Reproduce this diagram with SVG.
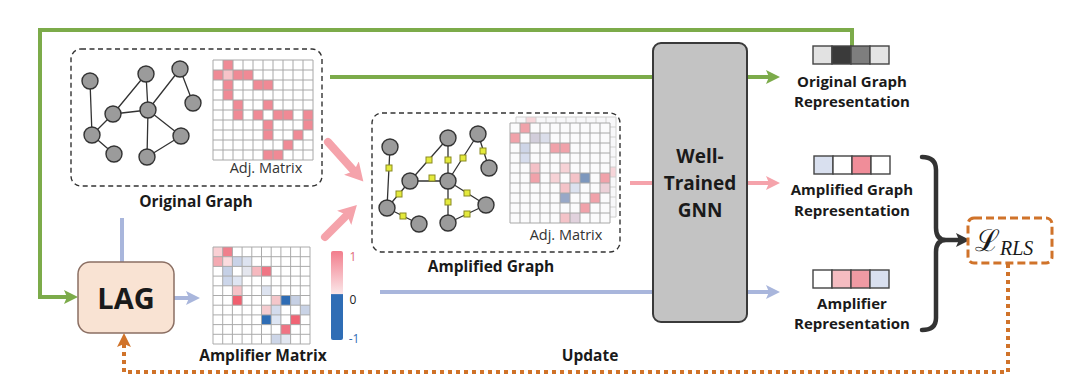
<svg xmlns="http://www.w3.org/2000/svg" xmlns:xlink="http://www.w3.org/1999/xlink" width="1080" height="384" viewBox="0 0 1080 384">
<style>
.lbl{font-family:"Open Sans","Liberation Sans",sans-serif;font-weight:bold;fill:#1a1a1a;text-anchor:middle}
.reg{font-family:"Open Sans","Liberation Sans",sans-serif;fill:#333;text-anchor:middle;font-size:14.5px}
.dash{fill:none;stroke:#333;stroke-width:1.4;stroke-dasharray:5 3.5}
.nd{fill:#9b9b9b;stroke:#333;stroke-width:1.4}
.ed{stroke:#333;stroke-width:1.3;fill:none}
.yq{fill:#e4ea3c;stroke:#8a8a22;stroke-width:1}
.rep{stroke:#444;stroke-width:1.4}
.grn{fill:none;stroke:#7cab4a;stroke-width:4}
.pnk{fill:none;stroke:#f5a3ab;stroke-width:4}
.blu{fill:none;stroke:#a9b6dc;stroke-width:4}
</style>
<defs>
<path id="grid" d="M0 0H100M0 10H100M0 20H100M0 30H100M0 40H100M0 50H100M0 60H100M0 70H100M0 80H100M0 90H100M0 100H100M0 0V100M10 0V100M20 0V100M30 0V100M40 0V100M50 0V100M60 0V100M70 0V100M80 0V100M90 0V100M100 0V100" fill="none" stroke="#a8a8a8" stroke-width="1"/>
<linearGradient id="cbar" x1="0" y1="0" x2="0" y2="1">
<stop offset="0" stop-color="#f27d8c"/>
<stop offset="0.48" stop-color="#fbe6e8"/>
<stop offset="0.49" stop-color="#2f6db5"/>
<stop offset="1" stop-color="#2f6db5"/>
</linearGradient>
<marker id="mg" markerUnits="userSpaceOnUse" markerWidth="14" markerHeight="14" viewBox="0 0 14 14" refX="3" refY="7" orient="auto"><path d="M0 0L14 7L0 14L3 7z" fill="#7cab4a"/></marker>
<marker id="mp" markerUnits="userSpaceOnUse" markerWidth="14" markerHeight="14" viewBox="0 0 14 14" refX="3" refY="7" orient="auto"><path d="M0 0L14 7L0 14L3 7z" fill="#f5a3ab"/></marker>
<marker id="mb" markerUnits="userSpaceOnUse" markerWidth="14" markerHeight="14" viewBox="0 0 14 14" refX="3" refY="7" orient="auto"><path d="M0 0L14 7L0 14L3 7z" fill="#a9b6dc"/></marker>
<marker id="mk" markerUnits="userSpaceOnUse" markerWidth="14" markerHeight="14" viewBox="0 0 14 14" refX="3" refY="7" orient="auto"><path d="M0 0L14 7L0 14L3 7z" fill="#333"/></marker>
<marker id="mo" markerUnits="userSpaceOnUse" markerWidth="14" markerHeight="14" viewBox="0 0 14 14" refX="3" refY="7" orient="auto"><path d="M0 0L14 7L0 14L3 7z" fill="#d0732a"/></marker>
<marker id="mpb" markerUnits="userSpaceOnUse" markerWidth="20" markerHeight="20" viewBox="0 0 20 20" refX="4" refY="10" orient="auto"><path d="M0 0L18 10L0 20L4 10z" fill="#f5a3ab"/></marker>
</defs>

<g id="connectors">
<path class="grn" d="M852 46V30H40V297H67" marker-end="url(#mg)"/>
<path class="grn" d="M330 77H769" marker-end="url(#mg)"/>
<path class="pnk" d="M630 183H769" marker-end="url(#mp)"/>
<path class="blu" d="M380 292H769" marker-end="url(#mb)"/>
<path class="blu" d="M122 218V262"/>
<path class="blu" d="M174 298H189" marker-end="url(#mb)"/>
<path d="M328 142L354 171" stroke="#f5a3ab" stroke-width="8" stroke-linecap="round" marker-end="url(#mpb)"/>
<path d="M325 237L347 215" stroke="#f5a3ab" stroke-width="8" stroke-linecap="round" marker-end="url(#mpb)"/>
<path d="M922 157Q936 157 936 170V228Q936 240 946 240Q936 240 936 252V318Q936 330 922 330" fill="none" stroke="#333" stroke-width="4.5" stroke-linecap="round"/>
<path d="M946 240H959" stroke="#333" stroke-width="4.5" marker-end="url(#mk)"/>
<path d="M1008 264V372H124V344" fill="none" stroke="#d0732a" stroke-width="4" stroke-dasharray="4 4" marker-end="url(#mo)"/>
</g>

<g id="original-graph">
<rect class="dash" x="71" y="49" width="251" height="137" rx="10"/>
<g class="ed">
<path d="M90 81L92 135M92 135L113 114M92 135L114 154M113 114L146 74M113 114L148 110M146 74L148 110M180 69L148 110M180 69L193 103M148 110L147 157M148 110L181 136M181 136L147 157"/>
</g>
<g class="nd">
<circle cx="90" cy="81" r="8"/><circle cx="146" cy="74" r="8"/><circle cx="180" cy="69" r="8"/><circle cx="193" cy="103" r="8"/><circle cx="113" cy="114" r="8"/><circle cx="148" cy="110" r="8"/><circle cx="92" cy="135" r="8"/><circle cx="114" cy="154" r="8"/><circle cx="147" cy="157" r="8"/><circle cx="181" cy="136" r="8"/>
</g>
<g transform="translate(213,60)" fill="#ef8a95">
<rect x="10" y="0" width="10" height="10"/>
<rect x="0" y="10" width="10" height="10"/><rect x="10" y="10" width="10" height="10" fill="#f7c4c9"/><rect x="20" y="10" width="10" height="10"/><rect x="30" y="10" width="10" height="10"/>
<rect x="10" y="20" width="10" height="10"/><rect x="40" y="20" width="10" height="10"/><rect x="50" y="20" width="10" height="10"/>
<rect x="10" y="30" width="10" height="10"/>
<rect x="20" y="40" width="10" height="10"/><rect x="50" y="40" width="10" height="10"/>
<rect x="20" y="50" width="10" height="10"/><rect x="40" y="50" width="10" height="10"/><rect x="60" y="50" width="10" height="10"/><rect x="70" y="50" width="10" height="10"/><rect x="90" y="50" width="10" height="10"/>
<rect x="50" y="60" width="10" height="10"/><rect x="90" y="60" width="10" height="10"/>
<rect x="50" y="70" width="10" height="10"/><rect x="80" y="70" width="10" height="10"/>
<rect x="70" y="80" width="10" height="10"/>
<rect x="50" y="90" width="10" height="10"/><rect x="60" y="90" width="10" height="10"/>
<use xlink:href="#grid" href="#grid"/>
</g>
<text class="reg" x="266" y="173">Adj. Matrix</text>
<text class="lbl" x="196" y="207" font-size="15.5">Original Graph</text>
</g>

<g id="amplified-graph">
<rect class="dash" x="372" y="113" width="248" height="139" rx="10"/>
<g class="ed">
<path d="M390 147L387 208M387 208L410 181M387 208L419 224M410 181L448 138M410 181L448 181M448 138L448 181M478 134L448 181M478 134L489 168M448 181L448 223M448 181L486 205M486 205L448 223"/>
</g>
<g class="nd">
<circle cx="390" cy="147" r="8"/><circle cx="448" cy="138" r="8"/><circle cx="478" cy="134" r="8"/><circle cx="489" cy="168" r="8"/><circle cx="410" cy="181" r="8"/><circle cx="448" cy="181" r="8"/><circle cx="387" cy="208" r="8"/><circle cx="419" cy="224" r="8"/><circle cx="448" cy="223" r="8"/><circle cx="486" cy="205" r="8"/>
</g>
<g class="yq">
<rect x="386" y="165" width="6" height="6"/><rect x="396" y="191" width="6" height="6"/><rect x="400" y="213" width="6" height="6"/><rect x="426" y="157" width="6" height="6"/><rect x="429" y="175" width="6" height="6"/><rect x="445" y="157" width="6" height="6"/><rect x="460" y="155" width="6" height="6"/><rect x="480" y="148" width="6" height="6"/><rect x="445" y="199" width="6" height="6"/><rect x="464" y="190" width="6" height="6"/><rect x="464" y="211" width="6" height="6"/>
</g>
<g transform="translate(516,117)" opacity="0.55">
<rect x="0" y="0" width="100" height="100" fill="#f4f4f6"/>
<g fill="#ef8a95" opacity="0.6">
<rect x="10" y="0" width="10" height="10"/><rect x="20" y="10" width="10" height="10"/><rect x="50" y="20" width="10" height="10"/><rect x="90" y="50" width="10" height="10"/><rect x="80" y="70" width="10" height="10"/>
</g>
<use xlink:href="#grid" href="#grid"/>
</g>
<g transform="translate(510,123)">
<rect x="0" y="0" width="100" height="100" fill="#fbfbfc"/>
<g fill="#ee8c96" opacity="0.8">
<rect x="10" y="0" width="10" height="10"/>
<rect x="0" y="10" width="10" height="10"/><rect x="20" y="10" width="10" height="10" fill="#c9c4d4"/><rect x="30" y="10" width="10" height="10" fill="#d4d8e6"/>
<rect x="10" y="20" width="10" height="10" fill="#c3cce2"/><rect x="40" y="20" width="10" height="10"/><rect x="50" y="20" width="10" height="10"/>
<rect x="10" y="30" width="10" height="10" fill="#cfd6ea"/>
<rect x="20" y="40" width="10" height="10" fill="#f3b3ba"/><rect x="50" y="40" width="10" height="10" fill="#f6c8cd"/>
<rect x="20" y="50" width="10" height="10"/><rect x="40" y="50" width="10" height="10" fill="#f6c8cd"/><rect x="60" y="50" width="10" height="10" fill="#f3b6bc"/><rect x="70" y="50" width="10" height="10" fill="#5e7fae"/><rect x="90" y="50" width="10" height="10"/>
<rect x="50" y="60" width="10" height="10" fill="#f3b6bc"/><rect x="60" y="60" width="10" height="10" fill="#d5dcec"/><rect x="90" y="60" width="10" height="10" fill="#e9c7d0"/>
<rect x="50" y="70" width="10" height="10" fill="#8094ba"/><rect x="80" y="70" width="10" height="10"/>
<rect x="70" y="80" width="10" height="10"/>
<rect x="50" y="90" width="10" height="10" fill="#f3b6bc"/><rect x="60" y="90" width="10" height="10" fill="#dbc9d6"/>
</g>
<use xlink:href="#grid" href="#grid"/>
</g>
<text class="reg" x="566" y="240">Adj. Matrix</text>
<text class="lbl" x="491" y="272" font-size="15.5">Amplified Graph</text>
</g>

<g id="lag">
<rect x="78" y="262" width="96" height="71" rx="12" fill="#f9e3d3" stroke="#8b6f63" stroke-width="1.5"/>
<text class="lbl" x="126" y="309" font-size="29">LAG</text>
</g>

<g id="amplifier-matrix">
<g transform="translate(213,247) scale(0.97)">
<rect x="0" y="0" width="10" height="10" fill="#f9d0d4"/><rect x="10" y="0" width="10" height="10" fill="#f07f8c"/>
<rect x="0" y="10" width="10" height="10" fill="#f4aab2"/><rect x="10" y="10" width="10" height="10" fill="#fbdcdf"/><rect x="20" y="10" width="10" height="10" fill="#c9d3e8"/><rect x="30" y="10" width="10" height="10" fill="#dde3f0"/>
<rect x="10" y="20" width="10" height="10" fill="#c5d0e6"/><rect x="30" y="20" width="10" height="10" fill="#e4e6ee"/><rect x="40" y="20" width="10" height="10" fill="#f6b9bf"/><rect x="50" y="20" width="10" height="10" fill="#f07584"/>
<rect x="10" y="30" width="10" height="10" fill="#ccd6ea"/><rect x="20" y="30" width="10" height="10" fill="#dfe5f2"/>
<rect x="20" y="40" width="10" height="10" fill="#f5c2c7"/><rect x="50" y="40" width="10" height="10" fill="#dde3f0"/>
<rect x="20" y="50" width="10" height="10" fill="#f0606f"/><rect x="60" y="50" width="10" height="10" fill="#f4c6ca"/><rect x="70" y="50" width="10" height="10" fill="#2f6db5"/><rect x="80" y="50" width="10" height="10" fill="#c6d0e4"/>
<rect x="50" y="60" width="10" height="10" fill="#f5ccd0"/><rect x="60" y="60" width="10" height="10" fill="#d3dbec"/><rect x="90" y="60" width="10" height="10" fill="#c9d3e6"/>
<rect x="50" y="70" width="10" height="10" fill="#2f6db5"/><rect x="60" y="70" width="10" height="10" fill="#dde5f3"/><rect x="80" y="70" width="10" height="10" fill="#f06474"/>
<rect x="70" y="80" width="10" height="10" fill="#f07484"/>
<rect x="60" y="90" width="10" height="10" fill="#cdd6e8"/><rect x="70" y="90" width="10" height="10" fill="#e2e7f1"/>
<use xlink:href="#grid" href="#grid"/>
</g>
<rect x="331" y="251" width="12" height="89" rx="2" fill="url(#cbar)"/>
<text x="353" y="261" font-family="Open Sans, Liberation Sans, sans-serif" font-size="12" fill="#e06a78" text-anchor="middle">1</text>
<text x="353" y="304" font-family="Open Sans, Liberation Sans, sans-serif" font-size="12" fill="#222" text-anchor="middle">0</text>
<text x="354" y="343" font-family="Open Sans, Liberation Sans, sans-serif" font-size="12" fill="#2f6db5" text-anchor="middle">-1</text>
<text class="lbl" x="263" y="361" font-size="15.5">Amplifier Matrix</text>
</g>

<g id="update-label">
<text class="lbl" x="590" y="361" font-size="15.5">Update</text>
</g>

<g id="gnn">
<rect x="653" y="43" width="94" height="279" rx="8" fill="#c3c3c3" stroke="#3a3a3a" stroke-width="2"/>
<text class="lbl" x="700" y="163" font-size="19">Well-</text>
<text class="lbl" x="700" y="190" font-size="19">Trained</text>
<text class="lbl" x="700" y="217" font-size="19">GNN</text>
</g>

<g id="original-representation">
<rect class="rep" x="813" y="46" width="19" height="18" fill="#e2e2e2"/>
<rect class="rep" x="832" y="46" width="19" height="18" fill="#3a3a3a"/>
<rect class="rep" x="851" y="46" width="19" height="18" fill="#7e7e7e"/>
<rect class="rep" x="870" y="46" width="19" height="18" fill="#e4e4e4"/>
<text class="lbl" x="852" y="87" font-size="15">Original Graph</text>
<text class="lbl" x="852" y="107" font-size="15">Representation</text>
</g>

<g id="amplified-representation">
<rect class="rep" x="814" y="156" width="19" height="18" fill="#d9e0ef"/>
<rect class="rep" x="833" y="156" width="19" height="18" fill="#ffffff"/>
<rect class="rep" x="852" y="156" width="19" height="18" fill="#f08d99"/>
<rect class="rep" x="871" y="156" width="19" height="18" fill="#ffffff"/>
<text class="lbl" x="852" y="195" font-size="15">Amplified Graph</text>
<text class="lbl" x="852" y="216" font-size="15">Representation</text>
</g>

<g id="amplifier-representation">
<rect class="rep" x="813" y="270" width="19" height="18" fill="#ffffff"/>
<rect class="rep" x="832" y="270" width="19" height="18" fill="#f5bcc1"/>
<rect class="rep" x="851" y="270" width="19" height="18" fill="#ef9aa3"/>
<rect class="rep" x="870" y="270" width="19" height="18" fill="#d9e0ef"/>
<text class="lbl" x="852" y="309" font-size="15">Amplifier</text>
<text class="lbl" x="852" y="329" font-size="15">Representation</text>
</g>

<g id="loss">
<rect x="968" y="218" width="84" height="45" rx="6" fill="#ffffff" stroke="#d0732a" stroke-width="3" stroke-dasharray="8 4"/>
<text x="975" y="251" font-family="DejaVu Serif, Liberation Serif, serif" font-size="30" fill="#1a1a1a">ℒ<tspan font-family="Liberation Serif, serif" font-style="italic" font-size="20" dy="4">RLS</tspan></text>
</g>
</svg>
